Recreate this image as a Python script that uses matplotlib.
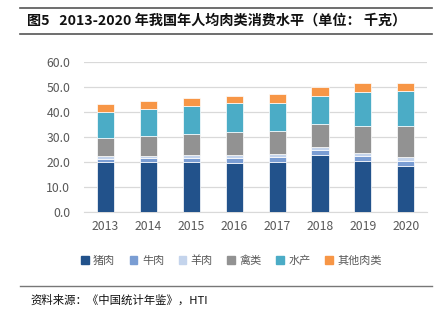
import matplotlib
matplotlib.use("Agg")
import matplotlib.pyplot as plt
from matplotlib.lines import Line2D
import numpy as np

plt.rcParams['font.family'] = ['Noto Sans CJK SC', 'DejaVu Sans']

years = ['2013', '2014', '2015', '2016', '2017', '2018', '2019', '2020']
series_names = ['猪肉', '牛肉', '羊肉', '禽类', '水产', '其他肉类']
pork = [19.8, 20.0, 20.1, 19.6, 20.1, 22.8, 20.3, 18.2]
beef = [1.5, 1.5, 1.6, 1.8, 1.9, 2.0, 2.2, 2.3]
mutton = [0.9, 1.0, 1.2, 1.5, 1.3, 1.3, 1.2, 1.3]
poultry = [7.2, 8.0, 8.4, 9.1, 8.9, 9.0, 10.8, 12.7]
aquatic = [10.4, 10.8, 11.2, 11.4, 11.5, 11.4, 13.6, 13.9]
other = [3.4, 3.2, 3.0, 3.1, 3.4, 3.4, 3.3, 3.0]
colors = ['#22528B', '#7A9DD3', '#C4D4EC', '#929292', '#4BACC6', '#F79646']

fig = plt.figure(figsize=(4.45, 3.24), dpi=100)
ax = fig.add_axes([0.189, 0.346, 0.771, 0.463])

x = np.arange(len(years))
bottom = np.zeros(len(years))
for vals, c in zip([pork, beef, mutton, poultry, aquatic, other], colors):
    ax.bar(x, vals, width=0.4, bottom=bottom, color=c, edgecolor='#ffffff',
           linewidth=0.5, zorder=3)
    bottom += np.array(vals)

ax.set_ylim(0, 60)
ax.set_xlim(-0.5, len(years) - 0.5)
ax.set_yticks(np.arange(0, 61, 10))
ax.set_yticklabels([f'{v:.1f}' for v in np.arange(0, 61, 10)])
ax.set_xticks(x)
ax.set_xticklabels(years)
ax.grid(axis='y', color='#d9d9d9', linewidth=0.9, zorder=0)
for s in ['top', 'right', 'left']:
    ax.spines[s].set_visible(False)
ax.spines['bottom'].set_color('#d9d9d9')
ax.tick_params(axis='both', length=0, labelsize=8.8, colors='#595959')
ax.tick_params(axis='y', pad=10)
ax.tick_params(axis='x', pad=6)

# legend row
handles = [plt.Rectangle((0, 0), 1, 1, color=c) for c in colors]
fig.legend(handles, series_names, loc='center', bbox_to_anchor=(0.52, 0.197),
           ncol=6, frameon=False, fontsize=8, handlelength=0.7, handleheight=0.7,
           handletextpad=0.4, columnspacing=1.3, labelcolor='#595959')

# title block with rules
fig.add_artist(Line2D([0.045, 0.97], [1 - 7.5 / 324] * 2, color='#555555', linewidth=1.2))
fig.add_artist(Line2D([0.045, 0.97], [1 - 33.5 / 324] * 2, color='#555555', linewidth=1.2))
fig.text(0.06, 1 - 20.5 / 324, '图5   2013-2020 年我国年人均肉类消费水平（单位： 千克）',
         fontsize=10.2, fontweight='bold', va='center', ha='left', color='#111111')

# source line
fig.add_artist(Line2D([0.045, 0.97], [1 - 286 / 324] * 2, color='#777777', linewidth=1.0))
fig.text(0.068, 1 - 300 / 324, '资料来源：《中国统计年鉴》，HTI', fontsize=8.2,
         va='center', ha='left', color='#111111')

fig.savefig('out.png', dpi=100)
